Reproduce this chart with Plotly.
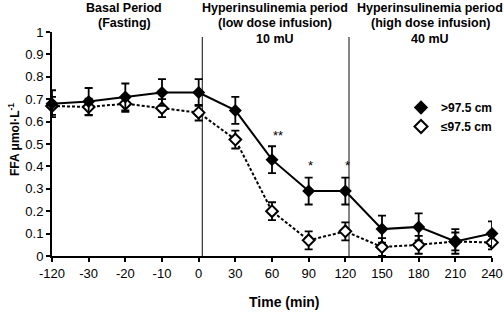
import plotly.graph_objects as go

times = ["-120", "-30", "-20", "-10", "0", "30", "60", "90", "120", "150", "180", "210", "240"]
high_waist = [0.68, 0.69, 0.71, 0.73, 0.73, 0.65, 0.43, 0.29, 0.29, 0.12, 0.13, 0.065, 0.10]
high_err = [0.06, 0.06, 0.06, 0.06, 0.06, 0.06, 0.06, 0.06, 0.06, 0.06, 0.06, 0.055, 0.055]
low_waist = [0.67, 0.665, 0.68, 0.66, 0.64, 0.52, 0.20, 0.07, 0.11, 0.04, 0.05, 0.065, 0.06]
low_err = [0.04, 0.037, 0.037, 0.04, 0.035, 0.04, 0.04, 0.04, 0.04, 0.04, 0.04, 0.04, 0.03]
y_ticks = [0, 0.1, 0.2, 0.3, 0.4, 0.5, 0.6, 0.7, 0.8, 0.9, 1]
y_tick_text = ["0", "0.1", "0.2", "0.3", "0.4", "0.5", "0.6", "0.7", "0.8", "0.9", "1"]
period_lines = [4.1, 8.1]
sig_marks = [("**", 6.15, 0.54), ("*", 7.05, 0.405), ("*", 8.05, 0.405)]
header_lines = [
    ["Basal Period", "(Fasting)"],
    ["Hyperinsulinemia period", "(low dose infusion)", "10 mU"],
    ["Hyperinsulinemia period", "(high dose infusion)", "40 mU"],
]

FONT = "Liberation Sans, Arial, sans-serif"
idx = list(range(len(times)))

# plot area in pixels
L, R, T, B = 52, 492, 32, 256


def px(x):
    return (x - L) / (R - L)


def py(y):
    return (B - y) / (B - T)


fig = go.Figure()
fig.add_trace(go.Scatter(
    x=idx, y=low_waist, mode="lines+markers", showlegend=False, cliponaxis=False,
    line=dict(color="black", width=2, dash="3px,2px"),
    marker=dict(symbol="diamond", size=9, color="white", line=dict(color="black", width=2)),
    error_y=dict(type="data", array=low_err, color="black", thickness=1.8, width=4),
))
fig.add_trace(go.Scatter(
    x=idx, y=high_waist, mode="lines+markers", showlegend=False, cliponaxis=False,
    line=dict(color="black", width=2),
    marker=dict(symbol="diamond", size=10, color="black"),
    error_y=dict(type="data", array=high_err, color="black", thickness=1.8, width=4),
))
fig.add_trace(go.Scatter(
    x=[None], y=[None], mode="markers", name="<b>>97.5 cm</b>",
    marker=dict(symbol="diamond", size=11, color="black"),
))
fig.add_trace(go.Scatter(
    x=[None], y=[None], mode="markers", name="<b>≤97.5 cm</b>",
    marker=dict(symbol="diamond", size=10, color="white", line=dict(color="black", width=2)),
))

for xv in period_lines:
    fig.add_shape(type="line", x0=xv, x1=xv, y0=0, y1=0.978, xref="x", yref="y",
                  line=dict(color="#333333", width=1.2), layer="below")

for txt, xv, yv in sig_marks:
    fig.add_annotation(x=xv, y=yv, text=txt, showarrow=False, xref="x", yref="y",
                       font=dict(family=FONT, size=13, color="black"))

header_x = [124, 275, 430]
line_y = [8, 23.5, 39]
for xp, lines in zip(header_x, header_lines):
    for yp, txt in zip(line_y, lines):
        fig.add_annotation(x=px(xp), y=py(yp), xref="paper", yref="paper",
                           xanchor="center", yanchor="middle", showarrow=False,
                           text=f"<b>{txt}</b>",
                           font=dict(family=FONT, size=12.5, color="black"))

fig.add_annotation(x=px(284), y=py(302), xref="paper", yref="paper",
                   xanchor="center", yanchor="middle", showarrow=False,
                   text="<b>Time (min)</b>", font=dict(family=FONT, size=14, color="black"))
fig.add_annotation(x=px(14), y=py(140), xref="paper", yref="paper",
                   xanchor="center", yanchor="middle", showarrow=False, textangle=-90,
                   text="<b>FFA μmol·L<sup>-1</sup></b>", font=dict(family=FONT, size=12, color="black"))

fig.update_layout(
    width=504, height=312, autosize=False,
    margin=dict(l=L, r=504 - R, t=T, b=312 - B, pad=0, autoexpand=False),
    paper_bgcolor="white", plot_bgcolor="white",
    font=dict(family=FONT, size=12, color="black"),
    legend=dict(x=px(401), y=py(93), xanchor="left", yanchor="top",
                bgcolor="rgba(0,0,0,0)", font=dict(family=FONT, size=12, color="black"),
                itemwidth=30, tracegroupgap=0),
    xaxis=dict(
        range=[0, 12], tickmode="array", tickvals=idx, ticktext=times, automargin=False,
        showgrid=False, zeroline=False, showline=True, linecolor="black", linewidth=2,
        ticks="outside", ticklen=4, tickwidth=1.5, tickcolor="black",
        tickfont=dict(family=FONT, size=13, color="black"),
    ),
    yaxis=dict(
        range=[0, 1], tickmode="array", tickvals=y_ticks, ticktext=y_tick_text, automargin=False,
        showgrid=False, zeroline=False, showline=True, linecolor="black", linewidth=2,
        ticks="outside", ticklen=4, tickwidth=1.5, tickcolor="black",
        tickfont=dict(family=FONT, size=13, color="black"),
    ),
)

fig.write_html("out.html", config={"displayModeBar": False, "responsive": False},
               default_width="504px", default_height="312px",
               post_script="document.body.style.margin='0';document.body.style.overflow='hidden';")
